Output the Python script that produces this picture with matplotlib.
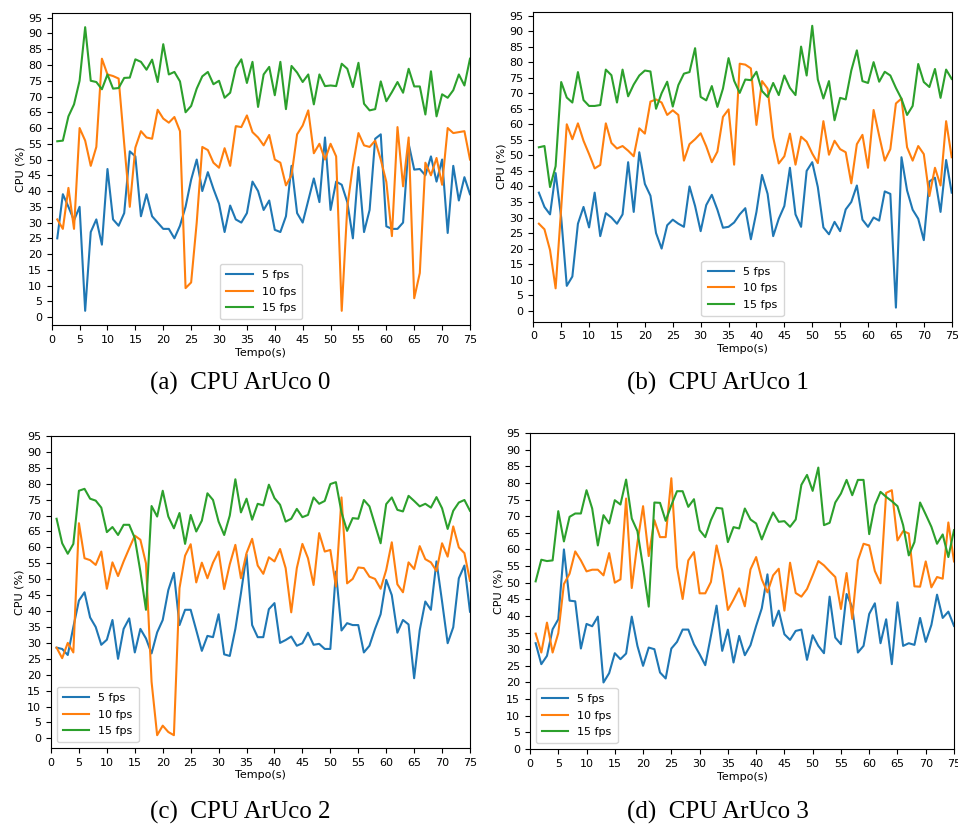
import matplotlib
matplotlib.use('Agg')
import matplotlib.pyplot as plt
import numpy as np

t = np.arange(1, 76)  # seconds

# (a) CPU ArUco 0
a_5 = [25, 39, 35, 30.7, 35, 2, 27, 31, 23, 47, 31, 29, 33, 52.6, 51, 32, 39, 32, 30, 28,
       28, 25, 29, 35, 43.6, 50, 40, 46, 40.7, 36, 27, 35.4, 31, 30, 33, 43, 40, 34, 37,
       27.7, 27, 32, 48, 33, 30, 37, 44, 36.5, 57, 34, 43, 42, 36.5, 25, 47.6, 27, 34, 56.6,
       58, 28.8, 28, 28, 30, 55, 46.8, 47, 45, 51, 43, 50, 26.7, 48, 37, 44.4, 39]
a_10 = [31, 28, 41, 28, 60, 56, 48, 54, 82, 77, 76.5, 75.7, 55, 35, 53.8, 59, 57, 56.6, 65.8, 63,
        61.7, 63.5, 59, 9.2, 11, 30, 54, 53, 49, 47.4, 53.6, 48, 60.6, 60.3, 64, 58.7, 57, 54.5, 57.8,
        50, 49, 41.8, 45, 58, 60.8, 65.6, 52, 55, 50, 55, 51, 2, 35, 48, 58.4, 54.5, 54, 56,
        50, 42.9, 25.7, 60.3, 41.5, 57, 6, 14, 49, 45, 50.5, 42, 60, 58.4, 58.7, 59, 50]
a_15 = [55.8, 56, 63.7, 67.5, 75, 92, 75, 74.6, 72.3, 77, 72.5, 72.7, 75.9, 76, 81.8, 81, 78.5, 81.7,
        74.6, 86.6, 77, 77.8, 74.8, 65, 67, 72.5, 76.4, 77.8, 73.9, 75, 69.6, 71.2, 79, 81.8, 74.3,
        81, 66.7, 77, 79.4, 70.4, 81, 66, 79.7, 77.6, 74.6, 77, 67.5, 77, 73.3, 73.5, 73.3, 80.4,
        78.8, 73, 80.7, 67.7, 65.6, 66, 74.8, 68.5, 71.4, 74.6, 71.2, 78.8, 73.2, 73.2, 64.3, 78,
        63.7, 70.7, 69.6, 72, 77, 73.5, 82]

# (b) CPU ArUco 1
b_5 = [38, 33.4, 31, 44.3, 30, 8, 11, 28, 33.4, 26.8, 38, 24, 31.4, 30, 28, 31, 47.8, 31.8, 51,
       40.8, 37, 25, 20, 27.5, 29.3, 28, 27, 40, 33.7, 25.6, 34, 37.3, 32.5, 26.7, 27,
       28.4, 31, 33, 23, 31.8, 43.7, 37.6, 24, 29.6, 33.7, 46, 31, 27, 45, 47.8, 39.8, 26.8,
       24.6, 28.6, 25.6, 32.6, 35, 40.3, 29.3, 27, 30, 29, 38.4, 37.6, 1, 49.4, 38.7, 32.5,
       29.6, 22.7, 41.6, 42.8, 31.8, 48.5, 38]
b_10 = [28, 26.2, 19.5, 7.2, 33, 60, 55.2, 60.3, 54.7, 50.4, 45.8, 46.9, 60.3, 54, 52.2, 53, 51.5,
        49.7, 58.7, 57, 67.3, 68, 67, 63, 64.5, 63, 48.3, 53.6, 55.2, 57.1, 52.9, 47.8, 51.2, 62.4,
        64.8, 47, 79.5, 79.2, 78, 59.8, 73.9, 71.5, 55.8, 47.4, 49.7, 57, 47, 56, 54.4, 50.6, 47.5,
        61, 50.2, 54.7, 52, 51, 41, 53.6, 56.6, 46, 64.6, 56.3, 48.3, 52, 66.7, 68.3, 52.6, 48.3,
        53, 50.4, 36.9, 46, 40.3, 61, 49.4]
b_15 = [52.6, 53, 39.8, 46.5, 73.6, 68.6, 67, 76.8, 67.8, 65.9, 65.9, 66.2, 77.6, 75.8, 67, 77.6,
        69, 72.8, 75.7, 77.3, 77, 65, 70, 73.7, 65.7, 72.6, 76.3, 76.8, 84.5, 68.8, 67.7, 72.3, 65.6,
        71.5, 81.3, 74, 70.1, 74.4, 74.2, 76.9, 70.7, 68.8, 73.3, 69.4, 75.7, 71.7, 69.4, 85, 75.7,
        91.7, 74.4, 68.3, 73.9, 61.3, 68.5, 68, 77.3, 83.8, 73.9, 73.3, 80, 73.7, 76.9, 75.7, 71.7,
        68.2, 63, 65.9, 79.4, 73.6, 72, 77.8, 68.5, 77.6, 74.6]

# (c) CPU ArUco 2
c_5 = [28.5, 28.1, 26.2, 35, 43.3, 45.9, 38, 35, 29.4, 31, 37.2, 25, 34.4, 37.7, 27, 34.4, 31.4,
       26.7, 33.3, 37.2, 46.6, 52, 35.6, 40.4, 40.4, 34, 27.5, 32.2, 31.8, 39, 26.4, 25.9, 34.4,
       45.6, 57.7, 35.6, 31.8, 31.8, 40.6, 42.5, 30, 30.9, 32, 29.1, 29.9, 33.2, 29.4, 29.7, 28.1,
       28.1, 52.4, 33.9, 36.2, 35.6, 35.6, 27, 29.1, 34.4, 39, 49.8, 45, 33.2, 37.2, 35.8, 18.9,
       34, 43, 40.4, 55.6, 43, 29.9, 34.9, 50.3, 54.3, 39.8]
c_10 = [28.5, 25.2, 30, 27, 67.6, 56.6, 56, 54.5, 58.7, 47, 55.3, 51, 55.6, 59.7, 63.7, 62.4, 55,
        17.8, 1, 4, 2, 1, 47.2, 57.4, 61, 49, 55.2, 50.3, 55.2, 58.7, 46.9, 54.7, 60.8, 50.3, 58.2,
        62.7, 54.3, 51.7, 56.9, 55.6, 59.5, 53.5, 39.6, 53.5, 61.1, 56.6, 48.2, 64.5, 58.7, 59.2,
        47.7, 75.7, 48.7, 50.1, 53.7, 53.5, 50.8, 50.1, 47, 52.9, 61.6, 48.4, 45.9, 55.3, 53.2,
        60.4, 56.3, 55.3, 52.6, 61.3, 57.1, 66.6, 60, 58.2, 49.5]
c_15 = [69, 61.3, 58, 61.1, 77.8, 78.4, 75.3, 74.7, 72.5, 64.8, 66.4, 63.9, 67.1, 67.1, 62.9, 52.4,
        40.4, 73, 69.7, 77.8, 69.7, 66, 70.8, 61.1, 70.2, 65, 68.4, 77, 74.9, 68.1, 63.9, 70, 81.4,
        71, 75.3, 68.7, 73.7, 73.2, 79.7, 75.5, 73.4, 68.1, 69, 72.1, 69.5, 70.2, 75.7, 73.7, 74.6,
        79.9, 80.5, 71, 65.2, 69.2, 69, 74.9, 72.9, 67.1, 61.3, 73.6, 75.7, 71.8, 71.3, 76.2, 74.6,
        72.9, 73.7, 72.5, 75.8, 72.3, 65.8, 71.5, 74.1, 74.9, 71.5]

# (d) CPU ArUco 3
d_5 = [31.8, 25.5, 28, 36, 39, 60, 44.6, 44.4, 30.2, 37.6, 36.9, 39.8, 20, 22.8, 28.8, 27, 28.7,
       39.8, 31, 25, 30.5, 30, 23, 21.2, 30.2, 32.2, 35.9, 35.9, 31.5, 28.5, 25.2, 34, 43.1, 29.5,
       35.9, 26, 34, 28.2, 31.2, 37, 42.3, 52.5, 37, 41.6, 34.5, 32.8, 35.5, 35.9, 26.8, 34.2, 31,
       28.8, 45.8, 33.5, 31.5, 46.6, 42.6, 29, 31, 40.6, 43.8, 31.8, 39, 25.5, 44.1, 31, 31.8,
       31.3, 39.4, 32.2, 37.3, 46.4, 39.4, 41.3, 37]
d_10 = [34.7, 29, 38, 29, 34.8, 49.6, 52.7, 59.4, 56.7, 53.4, 53.9, 53.9, 52.2, 58.9, 50, 51, 75.3,
        48.4, 62, 73, 58, 68.8, 63.7, 63.7, 81.4, 54.7, 45.1, 56.7, 59.2, 46.8, 46.8, 50.2, 61.2,
        53.7, 41.8, 44.9, 48.3, 42.9, 54, 57.7, 51, 47.1, 52.2, 54.2, 41.6, 56, 46.9, 45.8, 48.1,
        52.2, 56.5, 55.2, 53.4, 51.7, 42.1, 52.9, 39.1, 56.7, 61.7, 61.2, 53.5, 49.8, 77, 77.8,
        62.7, 65.5, 64.8, 48.9, 48.8, 56.4, 48.6, 51.7, 51.2, 68.1, 56.4]
d_15 = [50.4, 56.9, 56.5, 56.7, 71.5, 62.4, 69.8, 70.8, 70.8, 77.8, 72.3, 61.2, 70.3, 67.8, 74.8,
        73.5, 81, 69.3, 65.5, 54.7, 42.8, 74.1, 74, 68.6, 73.3, 77.5, 77.5, 72.8, 75.1, 65.8, 63.7,
        68.8, 72.5, 72.3, 62.2, 66.7, 66.3, 72.3, 69, 67.8, 63, 67.3, 71.1, 68.3, 68.5, 66.8, 69,
        79.4, 82.4, 77.6, 84.6, 67.3, 68, 74.1, 76.8, 80.9, 76.3, 80.9, 80.9, 64.6, 73.3, 77.3,
        75.8, 74.5, 73, 67.3, 58.2, 62.2, 74.1, 70.5, 66.8, 61.7, 64.5, 57.7, 65.8]

captions = ['(a)  CPU ArUco 0', '(b)  CPU ArUco 1', '(c)  CPU ArUco 2', '(d)  CPU ArUco 3']
labels = ['5 fps', '10 fps', '15 fps']

W, H = 958, 825
fig = plt.figure(figsize=(W / 100, H / 100), dpi=100)


def px_axes(left, top, right, bottom):  # axes box given in pixels of the picture
    return fig.add_axes([left / W, 1 - bottom / H, (right - left) / W, (bottom - top) / H])


def cpu_plot(ax, s5, s10, s15, loc):
    for s, lab in zip([s5, s10, s15], labels):
        ax.plot(t, s, label=lab, lw=1.5)
    ax.set_xlim(0, 75)
    ax.set_xticks(np.arange(0, 80, 5))
    ax.set_yticks(np.arange(0, 100, 5))
    ax.tick_params(labelsize=8, length=3.5)
    ax.set_xlabel('Tempo(s)', fontsize=8, labelpad=2)
    ax.set_ylabel('CPU (%)', fontsize=8, labelpad=2)
    ax.legend(loc=loc, fontsize=8, handlelength=2.4, borderpad=0.55, labelspacing=0.6)


ax_a = px_axes(51.7, 13, 470, 325)
ax_b = px_axes(533.3, 11.7, 951.7, 321.7)
ax_c = px_axes(51, 436, 470, 748)
ax_d = px_axes(530, 433, 954, 749)

cpu_plot(ax_a, a_5, a_10, a_15, 'lower center')
cpu_plot(ax_b, b_5, b_10, b_15, 'lower center')
cpu_plot(ax_c, c_5, c_10, c_15, 'lower left')
cpu_plot(ax_d, d_5, d_10, d_15, 'lower left')

# sub-figure captions, serif like the paper
for (cx, cy), txt in zip([(240, 383), (718, 383), (240, 812), (718, 812)], captions):
    fig.text(cx / W, 1 - cy / H, txt, ha='center', va='center',
             fontsize=18, family='Liberation Serif')

fig.savefig('out.png', dpi=100)
